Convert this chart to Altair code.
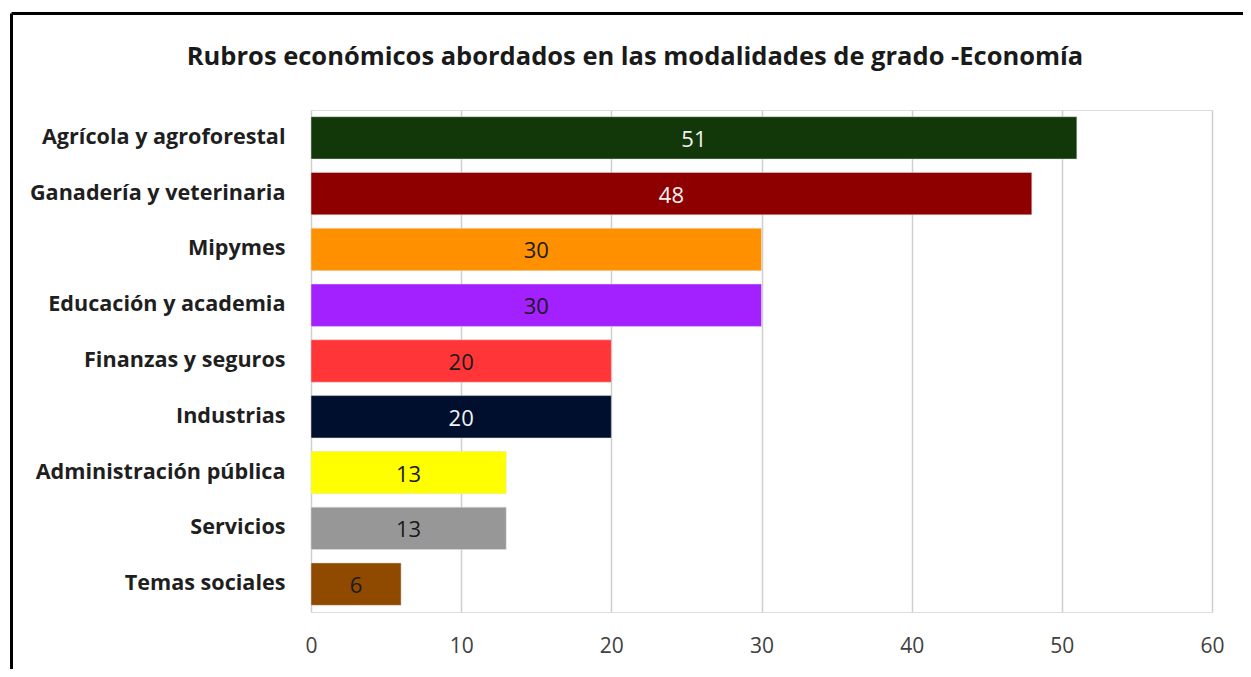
import altair as alt
import pandas as pd

categories = [
    "Agrícola y agroforestal",
    "Ganadería y veterinaria",
    "Mipymes",
    "Educación y academia",
    "Finanzas y seguros",
    "Industrias",
    "Administración pública",
    "Servicios",
    "Temas sociales",
]
values = [51, 48, 30, 30, 20, 20, 13, 13, 6]
bar_colors = ["#12380A", "#8E0000", "#FF9100", "#A321FF", "#FF3538",
              "#000F2E", "#FFFF00", "#979797", "#8F4A00"]
label_colors = ["#F2F2F2", "#F2F2F2", "#1A1A1A", "#1A1A1A", "#1A1A1A",
                "#F2F2F2", "#1A1A1A", "#1A1A1A", "#1A1A1A"]
title_text = "Rubros económicos abordados en las modalidades de grado -Economía"

df = pd.DataFrame({
    "cat": categories,
    "val": values,
    "color": bar_colors,
    "lcolor": label_colors,
})

FONT = "Open Sans"

y_enc = alt.Y("cat:N", sort=categories, title=None,
              scale=alt.Scale(paddingInner=0.24, paddingOuter=0.12),
              axis=alt.Axis(labelFont=FONT, labelFontWeight="bold", labelFontSize=21.6,
                            labelColor="#1F1F1F", labelPadding=26, ticks=False,
                            domain=False, grid=False, labelLimit=400))
x_enc = alt.X("val:Q", title=None,
              scale=alt.Scale(domain=[0, 60], nice=False),
              axis=alt.Axis(values=[0, 10, 20, 30, 40, 50, 60], labelFont=FONT,
                            labelFontSize=21, labelColor="#404040", labelPadding=23,
                            labelFlush=False,
                            ticks=False, domain=False, grid=True, gridColor="#CFCFCF",
                            gridWidth=1.5))

base = alt.Chart(df)

bars = base.mark_bar(stroke="#E0E0E0", strokeWidth=0.5).encode(
    x=x_enc, y=y_enc,
    color=alt.Color("color:N", scale=None),
)

labels = base.mark_text(font=FONT, fontSize=22, baseline="middle", align="center", dy=2).encode(
    x=alt.X("mid:Q"), y=alt.Y("cat:N", sort=categories),
    text=alt.Text("val:Q"),
    color=alt.Color("lcolor:N", scale=None),
).transform_calculate(mid="datum.val / 2")

title = alt.Chart(pd.DataFrame({"t": [title_text]})).mark_text(
    font=FONT, fontSize=25.5, fontWeight="bold", color="#1A1A1A",
    align="center", baseline="middle"
).encode(x=alt.value(324), y=alt.value(-53), text="t:N")

frame_top = alt.Chart(pd.DataFrame({"a": [0]})).mark_rule(color="#000000", strokeWidth=3).encode(
    x=alt.value(-299.5), x2=alt.value(960), y=alt.value(-96.5))
frame_left = alt.Chart(pd.DataFrame({"a": [0]})).mark_rule(color="#000000", strokeWidth=3).encode(
    x=alt.value(-299.5), y=alt.value(-96.5), y2=alt.value(600))

chart = alt.layer(bars, labels, title, frame_top, frame_left).properties(
    width=901, height=502,
    autosize=alt.AutoSizeParams(type="none"),
    padding={"left": 303, "top": 102, "right": 31, "bottom": 57},
).configure_view(strokeWidth=0, strokeOpacity=0).configure(background="white")

chart.save("out.html", embed_options={"renderer": "svg", "actions": False})
